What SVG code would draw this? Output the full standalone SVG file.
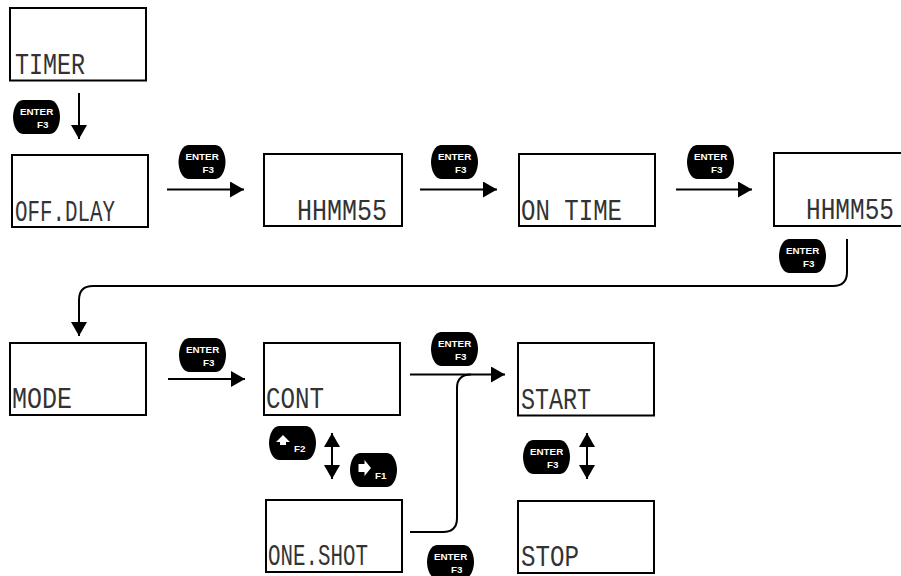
<svg xmlns="http://www.w3.org/2000/svg" width="901" height="576" viewBox="0 0 901 576">
<style>
.box{fill:#fff;stroke:#000;stroke-width:2}
.lcd{font-family:"Liberation Mono",monospace;font-size:29px;fill:#333}
.ln{fill:none;stroke:#000;stroke-width:2}
.btn{font-family:"Liberation Sans",Arial,sans-serif;font-weight:bold;font-size:9.800px;fill:#fff}
</style>
<defs>
<marker id="ah" markerUnits="userSpaceOnUse" markerWidth="15" markerHeight="16" refX="14" refY="8" orient="auto-start-reverse"><path d="M0 0L14 8L0 16Z" fill="#000"/></marker>
<path id="b" d="M10 0H37C43 0 47 9 47 17C47 25 43 34 37 34H10C4 34 0 25 0 17C0 9 4 0 10 0Z" fill="#000"/>
<path id="ua" d="M0 -6L-7 1H-3V4H3V1H7Z" fill="#fff"/>
<path id="ra" d="M6.500 0L0 -8V-4H-6V4H0V8Z" fill="#fff"/>
</defs>
<g id="connectors">
<path class="ln" marker-end="url(#ah)" d="M79 93V139"/>
<path class="ln" marker-end="url(#ah)" d="M167 189.500H244"/>
<path class="ln" marker-end="url(#ah)" d="M420 189.500H497"/>
<path class="ln" marker-end="url(#ah)" d="M676 189.500H752"/>
<path class="ln" marker-end="url(#ah)" d="M847 239V272Q847 286 833 286H93Q79 286 79 300V336"/>
<path class="ln" marker-end="url(#ah)" d="M168 379H245"/>
<path class="ln" marker-end="url(#ah)" d="M410 374.500H505"/>
<path class="ln" d="M410 532H443Q457 532 457 518V388Q457 374.500 471 374.500"/>
<path class="ln" marker-start="url(#ah)" marker-end="url(#ah)" d="M332 433V479"/>
<path class="ln" marker-start="url(#ah)" marker-end="url(#ah)" d="M587 433V479"/>
</g>
<g id="n-timer"><rect class="box" x="10" y="8" width="136" height="72.500"/><text class="lcd" x="15" y="74" textLength="70" lengthAdjust="spacingAndGlyphs">TIMER</text></g>
<g id="n-offdlay"><rect class="box" x="12" y="155" width="136" height="72"/><text class="lcd" x="15" y="221" textLength="100" lengthAdjust="spacingAndGlyphs">OFF.DLAY</text></g>
<g id="n-hhmmss1"><rect class="box" x="264" y="154" width="138" height="72"/><text class="lcd" x="297" y="220" textLength="90" lengthAdjust="spacingAndGlyphs">HHMM55</text></g>
<g id="n-ontime"><rect class="box" x="519" y="154" width="136" height="72"/><text class="lcd" x="521" y="220" textLength="101" lengthAdjust="spacingAndGlyphs">ON TIME</text></g>
<g id="n-hhmmss2"><path class="box" d="M902 153H774V226H902"/><text class="lcd" transform="translate(806 219) scale(.843 1)">HHMM55</text></g>
<g id="n-mode"><rect class="box" x="10" y="343" width="136" height="72"/><text class="lcd" x="12" y="408" textLength="60" lengthAdjust="spacingAndGlyphs">MODE</text></g>
<g id="n-cont"><rect class="box" x="264" y="343" width="136" height="72"/><text class="lcd" x="266" y="408" textLength="58" lengthAdjust="spacingAndGlyphs">CONT</text></g>
<g id="n-start"><rect class="box" x="518" y="343" width="136" height="72.500"/><text class="lcd" x="521" y="409" textLength="70" lengthAdjust="spacingAndGlyphs">START</text></g>
<g id="n-oneshot"><rect class="box" x="266" y="500" width="136" height="72"/><text class="lcd" x="268" y="565" textLength="100" lengthAdjust="spacingAndGlyphs">ONE.SHOT</text></g>
<g id="n-stop"><rect class="box" x="518" y="501" width="136" height="72"/><text class="lcd" x="521" y="566" textLength="58" lengthAdjust="spacingAndGlyphs">STOP</text></g>
<g id="btn-1" transform="translate(13 100)"><use href="#b"/><text class="btn" x="7" y="15">ENTER</text><text class="btn" x="24" y="28">F3</text></g>
<g id="btn-2" transform="translate(178.500 145)"><use href="#b"/><text class="btn" x="7" y="15">ENTER</text><text class="btn" x="24" y="28">F3</text></g>
<g id="btn-3" transform="translate(431 145)"><use href="#b"/><text class="btn" x="7" y="15">ENTER</text><text class="btn" x="24" y="28">F3</text></g>
<g id="btn-4" transform="translate(687 145)"><use href="#b"/><text class="btn" x="7" y="15">ENTER</text><text class="btn" x="24" y="28">F3</text></g>
<g id="btn-5" transform="translate(779 239)"><use href="#b"/><text class="btn" x="7" y="15">ENTER</text><text class="btn" x="24" y="28">F3</text></g>
<g id="btn-6" transform="translate(179 338)"><use href="#b"/><text class="btn" x="7" y="15">ENTER</text><text class="btn" x="24" y="28">F3</text></g>
<g id="btn-7" transform="translate(431 332)"><use href="#b"/><text class="btn" x="7" y="15">ENTER</text><text class="btn" x="24" y="28">F3</text></g>
<g id="btn-8" transform="translate(523 440)"><use href="#b"/><text class="btn" x="7" y="15">ENTER</text><text class="btn" x="24" y="28">F3</text></g>
<g id="btn-9" transform="translate(427 545)"><use href="#b"/><text class="btn" x="7" y="15">ENTER</text><text class="btn" x="24" y="28">F3</text></g>
<g id="btn-f2" transform="translate(269 426)"><use href="#b"/><use href="#ua" x="14" y="15"/><text class="btn" x="25" y="26">F2</text></g>
<g id="btn-f1" transform="translate(350 453)"><use href="#b"/><use href="#ra" x="14.500" y="15"/><text class="btn" x="25" y="26">F1</text></g>
</svg>
